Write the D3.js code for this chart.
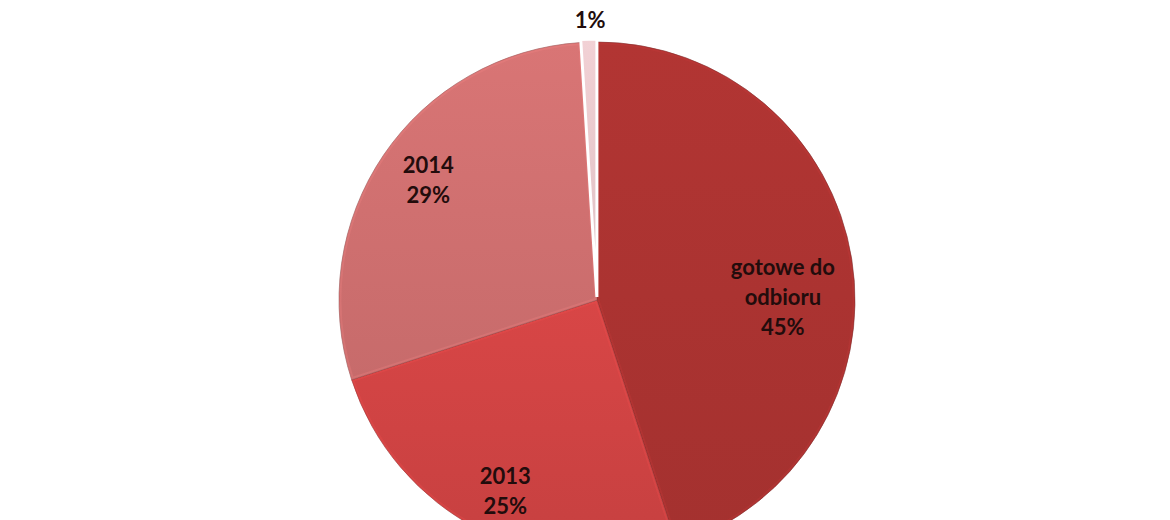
<!DOCTYPE html>
<html>
<head>
<meta charset="utf-8">
<script src="https://cdn.jsdelivr.net/npm/d3@7"></script>
<style>
  body { margin: 0; background: #fff; }
  svg { display: block; }
</style>
</head>
<body>
<div id="chart"></div>
<script>
// Data
const categories = ["gotowe do odbioru", "2013", "2014", "inne"];
const shares = [45, 25, 29, 1];
const sliceColors = ["#ab3331", "#cf4343", "#d07070", "#e8c8cc"];

// Layout
const width = 1170, height = 520;
const cx = 597, cy = 300, radius = 258;
const fontSize = 22, lineHeight = 30, wrapWidth = 125;
const outsideLabel = [false, false, false, true];   // small slice: only the percentage, outside
const labelNudge = [[-18, 29], [2, 7], [2, -4], [2, 0]];
const explode = [0, 0, 0, 3];

const data = categories.map((name, i) => ({ name, value: shares[i], color: sliceColors[i], i }));

const svg = d3.select("#chart")
    .append("svg")
    .attr("width", width)
    .attr("height", height);

const defs = svg.append("defs");

const g = svg.append("g")
    .attr("transform", `translate(${cx},${cy})`);

// Keep the slice order as given, start at 12 o'clock, go clockwise
const pie = d3.pie()
    .sort(null)
    .value(d => d.value);

const arcs = pie(data);

const arc = d3.arc()
    .innerRadius(0)
    .outerRadius(radius);

// Gradients and clip paths for the slight bevel look
arcs.forEach(d => {
    const c = d3.color(d.data.color);
    const grad = defs.append("linearGradient")
        .attr("id", `grad${d.data.i}`)
        .attr("x1", 0).attr("y1", 0)
        .attr("x2", 0).attr("y2", 1);
    grad.append("stop").attr("offset", "0%").attr("stop-color", c.brighter(0.12));
    grad.append("stop").attr("offset", "100%").attr("stop-color", c.darker(0.12));

    defs.append("clipPath")
        .attr("id", `clip${d.data.i}`)
        .append("path")
        .attr("d", arc(d));
});

const slices = g.selectAll(".slice")
    .data(arcs)
    .join("g")
    .attr("class", "slice")
    .attr("transform", d => {
        const off = d3.arc().innerRadius(explode[d.data.i]).outerRadius(explode[d.data.i]).centroid(d);
        return `translate(${off[0]},${off[1]})`;
    });

slices.append("path")
    .attr("d", arc)
    .attr("fill", d => `url(#grad${d.data.i})`)
    .attr("stroke", d => outsideLabel[d.data.i] ? "#fff" : d3.color(d.data.color).darker(1.2))
    .attr("stroke-width", d => outsideLabel[d.data.i] ? 3 : 1)
    .attr("stroke-opacity", d => outsideLabel[d.data.i] ? 1 : 0.55);

// inner highlight along the slice edges
slices.filter(d => !outsideLabel[d.data.i])
    .append("path")
    .attr("d", arc)
    .attr("clip-path", d => `url(#clip${d.data.i})`)
    .attr("fill", "none")
    .attr("stroke", d => d3.color(d.data.color).brighter(0.5))
    .attr("stroke-width", 5)
    .attr("stroke-opacity", 0.25);

// Labels
const measure = document.createElement("canvas").getContext("2d");
measure.font = `bold ${fontSize}px Lato`;

function wrap(text) {
    const words = text.split(" ");
    const lines = [];
    let line = "";
    words.forEach(w => {
        const test = line ? line + " " + w : w;
        if (line && measure.measureText(test).width > wrapWidth) {
            lines.push(line);
            line = w;
        } else {
            line = test;
        }
    });
    lines.push(line);
    return lines;
}

const labels = g.selectAll(".label")
    .data(arcs)
    .join("text")
    .attr("class", "label")
    .attr("text-anchor", "middle")
    .attr("font-family", "Lato, 'Open Sans', sans-serif")
    .attr("font-weight", "bold")
    .attr("font-size", fontSize)
    .attr("fill", "#220c0c")
    .each(function (d) {
        const outside = outsideLabel[d.data.i];
        const r = outside ? radius * 1.085 : radius * 0.8;
        const [x, y] = d3.arc().innerRadius(r).outerRadius(r).centroid(d);
        const nx = x + labelNudge[d.data.i][0];
        const ny = y + labelNudge[d.data.i][1];
        const pct = `${d.data.value}%`;
        const lines = outside ? [pct] : wrap(d.data.name).concat([pct]);
        const firstBase = ny - (lines.length - 1) * lineHeight / 2 + fontSize * 0.36;
        d3.select(this).selectAll("tspan")
            .data(lines)
            .join("tspan")
            .attr("x", nx)
            .attr("y", (t, k) => firstBase + k * lineHeight)
            .text(t => t);
    });
</script>
</body>
</html>
